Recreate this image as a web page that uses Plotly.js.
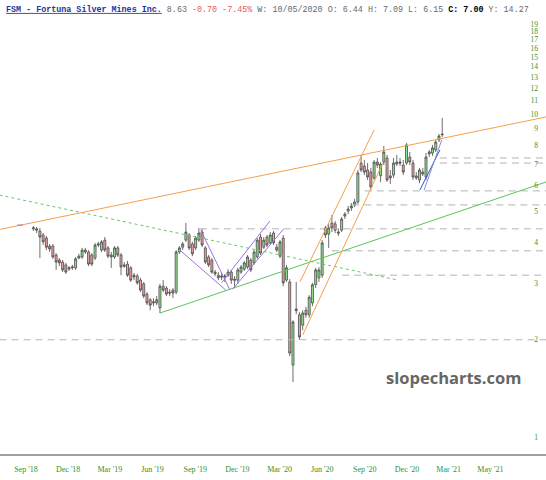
<!DOCTYPE html>
<html><head><meta charset="utf-8">
<script src="https://cdn.plot.ly/plotly-3.0.1.min.js"></script>
<style>html,body{margin:0;padding:0;background:#fff}#chart{width:546px;height:480px}</style>
</head><body><div id="chart"></div>
<script>
// Weekly candles (week start dates)
const dates = [
'2018-09-17','2018-09-24','2018-10-01','2018-10-08','2018-10-15','2018-10-22','2018-10-29','2018-11-05','2018-11-12','2018-11-19','2018-11-26','2018-12-03','2018-12-10','2018-12-17','2018-12-24','2018-12-31',
'2019-01-07','2019-01-14','2019-01-21','2019-01-28','2019-02-04','2019-02-11','2019-02-18','2019-02-25','2019-03-04','2019-03-11','2019-03-18','2019-03-25','2019-04-01','2019-04-08','2019-04-15','2019-04-22','2019-04-29','2019-05-06','2019-05-13','2019-05-20','2019-05-27','2019-06-03','2019-06-10','2019-06-17','2019-06-24','2019-07-01','2019-07-08','2019-07-15','2019-07-22','2019-07-29','2019-08-05','2019-08-12','2019-08-19','2019-08-26','2019-09-02','2019-09-09','2019-09-16','2019-09-23','2019-09-30','2019-10-07','2019-10-14','2019-10-21','2019-10-28','2019-11-04','2019-11-11','2019-11-18','2019-11-25','2019-12-02','2019-12-09','2019-12-16','2019-12-23','2019-12-30',
'2020-01-06','2020-01-13','2020-01-20','2020-01-27','2020-02-03','2020-02-10','2020-02-17','2020-02-24','2020-03-02','2020-03-09','2020-03-16','2020-03-23','2020-03-30','2020-04-06','2020-04-13','2020-04-20','2020-04-27','2020-05-04','2020-05-11','2020-05-18','2020-05-25','2020-06-01','2020-06-08','2020-06-15','2020-06-22','2020-06-29','2020-07-06','2020-07-13','2020-07-20','2020-07-27','2020-08-03','2020-08-10','2020-08-17','2020-08-24','2020-08-31','2020-09-07','2020-09-14','2020-09-21','2020-09-28','2020-10-05','2020-10-12','2020-10-19','2020-10-26','2020-11-02','2020-11-09','2020-11-16','2020-11-23','2020-11-30','2020-12-07','2020-12-14','2020-12-21','2020-12-28',
'2021-01-04','2021-01-11','2021-01-18','2021-01-25','2021-02-01','2021-02-08','2021-02-15'];
const openP = [
4.41,4.41,4.34,4.22,4.13,3.90,3.90,3.66,3.53,3.48,
3.41,3.31,3.34,3.34,3.58,3.61,3.74,3.74,3.66,3.58,
3.93,3.79,4.07,3.85,3.66,3.61,3.85,3.66,3.41,3.43,
3.34,3.17,3.15,3.06,2.98,2.77,2.66,2.60,2.60,2.51,
2.93,2.89,2.81,2.85,2.81,3.74,3.87,4.07,4.22,3.96,
3.85,4.07,4.31,3.85,3.61,3.53,3.24,3.17,3.15,3.13,
3.17,3.24,3.08,3.06,3.24,3.31,3.36,3.53,3.46,3.61,
4.16,3.87,4.16,3.99,4.28,3.87,3.63,4.13,3.06,3.02,
1.67,2.46,2.39,2.22,2.47,2.39,2.60,2.96,3.11,3.17,
4.44,4.25,4.60,4.57,4.31,4.37,4.83,5.01,5.12,5.23,
5.34,7.05,6.90,6.71,6.61,6.34,7.10,6.44,7.10,7.31,
6.43,6.47,7.00,7.10,6.95,7.05,7.36,7.05,6.43,6.25,
6.52,6.38,7.52,7.57,7.74,8.31,8.67];
const highP = [
4.50,4.47,4.44,4.28,4.19,3.96,3.96,3.71,3.58,3.53,
3.46,3.38,3.41,3.61,3.69,3.85,3.85,3.79,3.71,3.99,
4.02,4.07,4.16,3.90,3.74,3.90,3.90,3.71,3.48,3.51,
3.38,3.22,3.20,3.11,3.02,2.81,2.69,2.69,2.73,2.98,
3.06,2.93,2.87,2.89,3.79,3.90,4.02,4.60,4.28,4.02,
4.19,4.44,4.41,3.90,3.66,3.58,3.29,3.24,3.22,3.20,
3.31,3.29,3.15,3.34,3.41,3.51,3.66,3.58,3.79,4.13,
4.25,4.16,4.22,4.31,4.34,3.96,4.07,4.22,3.41,3.08,
2.30,3.02,2.44,2.47,2.53,2.75,3.00,3.34,3.36,4.07,
4.50,4.57,4.87,4.66,4.41,4.80,4.97,5.19,5.30,5.46,
6.71,7.47,7.20,7.05,6.81,7.20,7.31,7.09,7.96,7.47,
6.71,7.31,7.47,7.31,7.20,8.13,7.63,7.20,6.61,6.81,
6.81,7.57,7.74,8.02,8.31,8.67,9.72];
const lowP = [
4.34,4.28,3.58,3.93,3.79,3.74,3.56,3.29,3.38,3.24,
3.20,3.27,3.29,3.29,3.56,3.56,3.69,3.38,3.38,3.53,
3.87,3.74,3.74,3.58,3.34,3.56,3.61,3.17,3.34,3.13,
3.02,3.06,2.96,2.81,2.69,2.56,2.47,2.54,2.56,2.42,
2.81,2.73,2.73,2.69,2.77,3.69,3.79,4.02,3.79,3.63,
3.79,4.02,3.87,3.43,3.36,3.20,3.15,3.06,3.06,3.02,
3.13,2.98,2.89,2.98,3.20,3.27,3.31,3.24,3.41,3.56,
3.66,3.82,3.87,3.93,3.93,3.74,3.58,2.93,3.02,1.78,
1.48,2.40,2.00,2.14,2.34,2.34,2.54,2.89,3.02,3.11,
4.13,3.85,4.31,4.28,4.19,4.31,4.73,4.90,5.01,5.15,
5.26,6.61,6.47,6.25,5.82,6.25,6.81,6.15,6.95,6.16,
6.07,6.34,6.90,6.90,6.47,6.95,6.95,6.25,6.25,6.11,
6.43,6.25,7.36,7.41,7.63,8.19,8.49];
const closeP = [
4.44,4.37,4.16,4.02,3.87,3.82,3.61,3.48,3.46,3.29,
3.24,3.34,3.36,3.56,3.63,3.79,3.79,3.43,3.43,3.93,
3.96,4.02,3.79,3.63,3.61,3.85,3.66,3.36,3.38,3.17,
3.06,3.13,3.00,2.85,2.73,2.60,2.56,2.62,2.66,2.93,
2.85,2.77,2.79,2.79,3.74,3.85,3.96,4.31,3.85,3.69,
4.13,4.28,3.93,3.48,3.41,3.24,3.20,3.11,3.13,3.15,
3.24,3.06,3.06,3.29,3.36,3.46,3.61,3.29,3.74,4.07,
3.71,4.07,3.93,4.22,3.99,3.79,4.02,3.00,3.34,1.82,
2.27,2.49,2.04,2.42,2.39,2.71,2.96,3.29,3.29,3.99,
4.22,4.44,4.44,4.37,4.28,4.73,4.90,5.08,5.19,5.34,
6.57,6.71,6.61,6.38,5.94,7.10,6.95,7.00,7.63,6.25,
6.34,7.05,7.10,7.05,6.61,8.02,7.10,6.38,6.34,6.71,
6.61,7.36,7.63,7.85,8.19,8.55,8.63];

// Tick labels
const xTickVals = ['2018-09-01','2018-12-01','2019-03-01','2019-06-01','2019-09-01','2019-12-01','2020-03-01','2020-06-01','2020-09-01','2020-12-01','2021-03-01','2021-05-30'];
const xTickText = ["Sep '18","Dec '18","Mar '19","Jun '19","Sep '19","Dec '19","Mar '20","Jun '20","Sep '20","Dec '20","Mar '21","May '21"];
const yTickVals = [1,2,3,4,5,6,7,8,9,10,11,12,13,14,15,16,17,18,19];

// Drawn trendlines (date, price endpoints)
const orangeLongX = ['2018-07-06','2021-09-27'], orangeLongY = [4.39, 9.79];
const greenDotX = ['2018-07-06','2020-11-12'], greenDotY = [5.61, 3.06];
const greenSolidX = ['2019-06-17','2021-09-27'], greenSolidY = [2.42, 6.16];
const orangeUpX = ['2020-04-14','2020-09-21'], orangeUpY = [3.02, 8.92];
const orangeLowX = ['2020-04-20','2020-10-10'], orangeLowY = [2.07, 7.05];
const purple0X = ['2018-08-13','2018-08-25'], purple0Y = [4.53, 4.53];
const purple1X = ['2019-07-30','2019-11-06'], purple1Y = [3.79, 2.85];
const purple2X = ['2019-09-13','2019-11-15'], purple2Y = [4.37, 2.85];
const purple3X = ['2019-10-28','2020-02-09'], purple3Y = [3.00, 4.66];
const purple4X = ['2019-11-21','2020-03-10'], purple4Y = [2.87, 4.41];
const blue1X = ['2020-12-29','2021-02-10'], blue1Y = [5.82, 7.74];
const blue2X = ['2021-01-07','2021-02-14'], blue2Y = [5.82, 8.31];
// Horizontal levels: price and start date
const levelPrices = [2.00, 3.17, 3.77, 4.41, 5.23, 5.78, 7.05, 7.31];
const levelStarts = ['2018-07-06','2020-07-14','2020-06-22','2019-09-11','2020-08-05','2020-09-01','2021-02-10','2021-02-10'];
const xEnd = '2021-09-27';

const traces = [];
function line(x, y, color, dash, width) {
  traces.push({type:'scatter', mode:'lines', x:x, y:y, line:{color:color, width:width||1, dash:dash||'solid'}, hoverinfo:'skip', showlegend:false});
}
levelPrices.forEach((p,i) => line([levelStarts[i], xEnd], [p,p], '#b4b4b4', '7px,5px', 1));
line(greenDotX, greenDotY, '#6cc46c', 'dot', 1);
line(orangeLongX, orangeLongY, '#f5a04c');
line(greenSolidX, greenSolidY, '#5cc45c');
line(orangeUpX, orangeUpY, '#f5a04c');
line(orangeLowX, orangeLowY, '#f5a04c');
[[purple0X,purple0Y],[purple1X,purple1Y],[purple2X,purple2Y],[purple3X,purple3Y],[purple4X,purple4Y]].forEach(p => line(p[0], p[1], '#a070e0'));
line(blue1X, blue1Y, '#3050d0');
line(blue2X, blue2Y, '#8090e0');

traces.push({
  type:'candlestick', x:dates, open:openP, high:highP, low:lowP, close:closeP,
  increasing:{fillcolor:'#8fe58f', line:{color:'#4a4a4a', width:0.8}},
  decreasing:{fillcolor:'#f2a3a3', line:{color:'#4a4a4a', width:0.8}},
  whiskerwidth:0, hoverinfo:'skip', showlegend:false
});

const layout = {
  width:546, height:480,
  margin:{l:0, r:0, t:14, b:26, pad:0},
  paper_bgcolor:'#fff', plot_bgcolor:'#fff',
  showlegend:false, hovermode:false,
  boxgap:0.12,
  title:{
    text:'<span style="color:#23349c;font-weight:bold;text-decoration:underline">FSM - Fortuna Silver Mines Inc.</span> 8.63 <span style="color:#e25a5a">-0.70 -7.45%</span> W: 10/05/2020 O: 6.44 H: 7.09 L: 6.15 <span style="color:#000;font-weight:bold">C: 7.00</span> Y: 14.27',
    x:6/546, xref:'container', xanchor:'left', y:1-9/480, yref:'container', yanchor:'middle',
    font:{family:'Liberation Mono, DejaVu Sans Mono, monospace', size:8.4, color:'#6a6a6a'}
  },
  xaxis:{
    type:'date', range:['2018-07-06 22:00','2021-09-26 22:00'],
    rangeslider:{visible:false},
    tickvals:xTickVals, ticktext:xTickText, ticks:'', showgrid:false, zeroline:false,
    showline:true, linecolor:'#a0a0a0', linewidth:2,
    tickfont:{family:'Liberation Serif, serif', size:8, color:'#2f932f'},
    ticklabelstandoff:6
  },
  yaxis:{
    type:'log', range:[-0.05263, 1.30960], side:'right',
    tickvals:yTickVals, ticktext:yTickVals.map(String),
    ticklabelposition:'inside', ticks:'', showgrid:false, zeroline:false, showline:false,
    tickfont:{family:'Liberation Serif, serif', size:7.5, color:'#2f932f'},
    ticklabelstandoff:5
  },
  annotations:[{
    text:'slopecharts.com', xref:'paper', yref:'paper', x:453/546, y:(454-377)/440,
    xanchor:'center', yanchor:'middle', showarrow:false,
    font:{family:'Open Sans, sans-serif', size:16.5, color:'#666', weight:700}
  }]
};
Plotly.newPlot('chart', traces, layout, {staticPlot:true, displayModeBar:false});
</script>
</body></html>
